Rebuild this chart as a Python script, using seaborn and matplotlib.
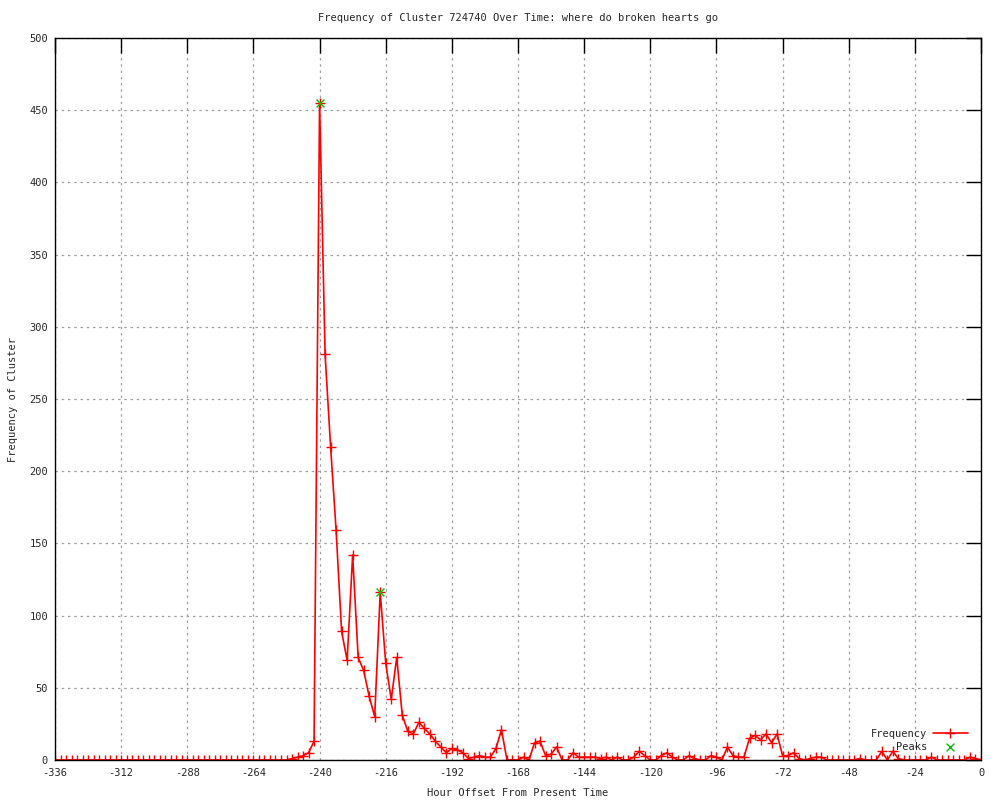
import numpy as np
import pandas as pd
import seaborn as sns
import matplotlib
matplotlib.use("Agg")
import matplotlib.pyplot as plt

# hour offsets, one sample every 2 hours
hours = list(range(-336, 1, 2))

freq = [
    0, 0, 0, 0, 0, 0, 0, 0, 0, 0, 0, 0, 0, 0, 0, 0, 0, 0, 0, 0,
    0, 0, 0, 0, 0, 0, 0, 0, 0, 0, 0, 0, 0, 0, 0, 0, 0, 0, 0, 0,
    0, 0, 0,
    1, 2, 3, 5, 13, 455, 281, 217, 159, 89,
    69, 142, 71, 62, 44, 30, 116, 67, 42, 71,
    31, 20, 18, 26, 22, 18, 13, 9, 5, 8,
    7, 5, 1, 2, 3, 2, 2, 8, 21, 0,
    0, 0, 2, 0, 12, 13, 3, 4, 9, 0,
    0, 5, 2, 2, 2, 2, 1, 2, 0, 2,
    0, 0, 2, 6, 3, 0, 0, 3, 5, 2,
    0, 0, 3, 1, 0, 0, 3, 2, 0, 9,
    3, 2, 2, 15, 17, 14, 18, 12, 18, 3,
    3, 5, 1, 0, 1, 2, 2, 0, 0, 0,
    0, 0, 0, 1, 0, 0, 0, 6, 0, 6,
    1, 0, 0, 0, 0, 0, 2, 0, 0, 0,
    0, 0, 0, 2, 1, 0,
]

peak_hours = [-240, -218]
peak_freq = [455, 116]

x_ticks = list(range(-336, 1, 24))
y_ticks = list(range(0, 501, 50))

title = "Frequency of Cluster 724740 Over Time: where do broken hearts go"

sns.set_style("white")
plt.rcParams['font.family'] = ['DejaVu Sans Mono']
fs = 7.5

df = pd.DataFrame({'hour': hours, 'freq': freq})

fig = plt.figure(figsize=(10, 8), dpi=100)
ax = fig.add_axes([0.055, 0.05, 0.926, 0.9025])

sns.lineplot(data=df, x='hour', y='freq', color='#ff0000', marker='+',
             markersize=7, markeredgewidth=1, markeredgecolor='#ff0000',
             linewidth=1.2, label='Frequency', ax=ax)
sns.scatterplot(x=peak_hours, y=peak_freq, marker='x', color='#00c000',
                s=32, linewidth=1, label='    Peaks', ax=ax, zorder=5)

ax.set_xlim(-336, 0)
ax.set_ylim(0, 500)
ax.set_xticks(x_ticks)
ax.set_yticks(y_ticks)
ax.set_xticklabels([str(t) for t in x_ticks], fontsize=fs)
ax.set_yticklabels([str(t) for t in y_ticks], fontsize=fs)
ax.tick_params(direction='in', length=11, width=1, color='black',
               top=True, right=True, pad=5)
ax.tick_params(axis='x', pad=6)
ax.grid(True, color='#a0a0a0', linestyle=(0, (2, 3)), linewidth=0.9)
ax.set_axisbelow(True)
for s in ax.spines.values():
    s.set_color('black')
    s.set_linewidth(1)
ax.set_xlabel('')
ax.set_ylabel('')

fig.text(0.518, 1 - 18 / 800, title, ha='center', va='center', fontsize=fs)
fig.text(0.518, 1 - 793 / 800, 'Hour Offset From Present Time',
         ha='center', va='center', fontsize=fs)
fig.text(0.013, 0.5, 'Frequency of Cluster', ha='center', va='center',
         rotation=90, fontsize=fs)

leg = ax.legend(loc='lower right', bbox_to_anchor=(0.99, 0.005),
                frameon=False, markerfirst=False, handlelength=3.3,
                numpoints=1, fontsize=fs, labelspacing=0.3,
                handletextpad=0.6, borderaxespad=0)

fig.savefig('out.png', dpi=100)
